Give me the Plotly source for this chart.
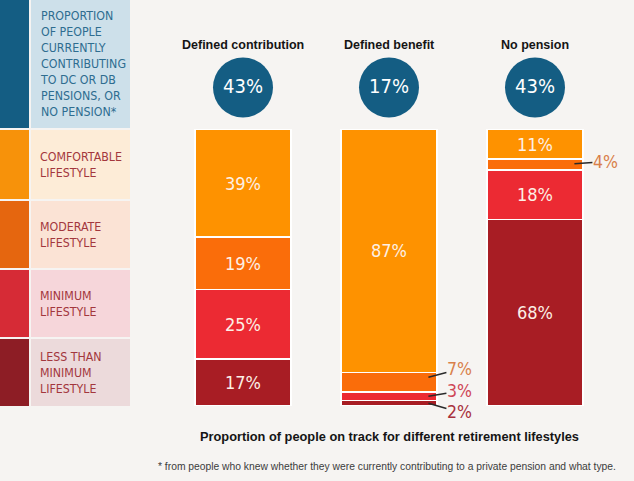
import plotly.graph_objects as go

# ---------------- data ----------------
pension_types = ["Defined contribution", "Defined benefit", "No pension"]
contributing = [43, 17, 43]            # % currently contributing (circles)
comfortable = [39, 87, 11]
moderate = [19, 7, 4]
minimum = [25, 3, 18]
less_than_minimum = [17, 2, 68]

legend_labels = [
    "PROPORTION<br>OF PEOPLE<br>CURRENTLY<br>CONTRIBUTING<br>TO DC OR DB<br>PENSIONS, OR<br>NO PENSION*",
    "COMFORTABLE<br>LIFESTYLE",
    "MODERATE<br>LIFESTYLE",
    "MINIMUM<br>LIFESTYLE",
    "LESS THAN<br>MINIMUM<br>LIFESTYLE",
]
chart_title = "Proportion of people on track for different retirement lifestyles"
footnote = "* from people who knew whether they were currently contributing to a private pension and what type."

# ---------------- styles ----------------
W, H = 634, 481
BG = "#f6f4f2"
NARROW = "DejaVu Sans Condensed, Liberation Sans Narrow, Arial Narrow, sans-serif"
SANS = "Liberation Sans, Arial, sans-serif"
C_BLUE = "#145d83"
series = [  # bottom -> top
    ("Less than minimum lifestyle", less_than_minimum, "#a81d24", "#a8303c"),
    ("Minimum lifestyle", minimum, "#ec2a33", "#cf4656"),
    ("Moderate lifestyle", moderate, "#fa6d0a", "#d9804a"),
    ("Comfortable lifestyle", comfortable, "#fe9200", "#d98a3a"),
]
SMALL = 8  # segments below this get an outside label

totals = [sum(s[1][i] for s in series) for i in range(len(pension_types))]

fig = go.Figure()
for name, vals, col, _ in series:
    heights = [v / t * 100 for v, t in zip(vals, totals)]
    fig.add_trace(go.Bar(
        x=pension_types, y=heights, name=name, customdata=vals,
        text=[f"{v}%" if v >= SMALL else "" for v in vals],
        textposition="inside", insidetextanchor="middle", textangle=0,
        constraintext="none",
        textfont=dict(family=NARROW, size=18, color="#fdf0e6"),
        marker=dict(color=col, line=dict(color="#ffffff", width=1.5)),
        hoverinfo="skip", showlegend=False,
    ))

# circles with proportion contributing
fig.add_trace(go.Scatter(
    x=pension_types, y=[0.3] * len(pension_types), yaxis="y2",
    mode="markers+text", text=[f"{v}%" for v in contributing],
    textposition="middle center",
    textfont=dict(family=NARROW, size=20, color="#ffffff"),
    marker=dict(size=60, color=C_BLUE, line=dict(width=0)),
    hoverinfo="skip", showlegend=False, cliponaxis=False,
))

annotations = []
# column titles
for p in pension_types:
    annotations.append(dict(x=p, y=(H - 45) / H, xref="x", yref="paper", text=f"<b>{p}</b>",
                            showarrow=False, font=dict(family=SANS, size=12.5, color="#151515"),
                            xanchor="center", yanchor="middle"))

# outside labels for small segments
offsets = {("Moderate lifestyle", 1): (5, -8), ("Minimum lifestyle", 1): (0, -5),
           ("Less than minimum lifestyle", 1): (0, 9), ("Moderate lifestyle", 2): (1, -2)}
for i, p in enumerate(pension_types):
    base = 0.0
    for name, vals, col, lab_col in series:
        h = vals[i] / totals[i] * 100
        if vals[i] < SMALL:
            ys, ay = offsets.get((name, i), (0, 0))
            annotations.append(dict(
                x=i + 0.27, y=base + h / 2, xref="x", yref="y", text=f"{vals[i]}%",
                showarrow=True, arrowhead=0, arrowwidth=1.5, arrowcolor="#2a2a2a",
                ax=31, ay=ay, yshift=ys, standoff=0, borderpad=0,
                font=dict(family=NARROW, size=17.5, color=lab_col)))
        base += h

# bottom texts
annotations.append(dict(x=(179 + 601) / 2 / W, y=(H - 436) / H, xref="paper", yref="paper",
                        xanchor="center", yanchor="middle",
                        text=f"<b>{chart_title}</b>", showarrow=False,
                        font=dict(family=SANS, size=12.8, color="#151515")))
annotations.append(dict(x=618 / W, y=(H - 466) / H, xref="paper", yref="paper",
                        xanchor="right", yanchor="middle",
                        text=footnote, showarrow=False,
                        font=dict(family=SANS, size=10.3, color="#3c3c3c")))

# left legend panel
rows = [(0, 128), (130, 199), (201, 268), (270, 337), (339, 406)]
col_colors = [C_BLUE, "#f7920a", "#e5660f", "#d62b36", "#8d1d25"]
box_colors = ["#cde0ea", "#fdecd7", "#fbe3d5", "#f6d6da", "#ecdadb"]
txt_colors = ["#2e6d90", "#a3373d", "#a3373d", "#a3373d", "#a3373d"]
shapes = []
for (t, b), cc, bc, tc, lab in zip(rows, col_colors, box_colors, txt_colors, legend_labels):
    y0, y1 = (H - b) / H, (H - t) / H
    shapes.append(dict(type="rect", xref="paper", yref="paper", x0=0, x1=29 / W, y0=y0, y1=y1,
                       fillcolor=cc, line=dict(width=0), layer="below"))
    shapes.append(dict(type="rect", xref="paper", yref="paper", x0=31 / W, x1=130 / W, y0=y0, y1=y1,
                       fillcolor=bc, line=dict(width=0), layer="below"))
    annotations.append(dict(x=38 / W, y=(y0 + y1) / 2, xref="paper", yref="paper", text=lab,
                            showarrow=False, xanchor="left", yanchor="middle", align="left",
                            font=dict(family=NARROW, size=12.3, color=tc)))

fig.update_layout(
    width=W, height=H, margin=dict(l=0, r=0, t=0, b=0),
    paper_bgcolor=BG, plot_bgcolor=BG,
    barmode="stack", bargap=0.342,
    xaxis=dict(domain=[170 / W, 608 / W], range=[-0.5, 2.5], type="category",
               visible=False, fixedrange=True),
    yaxis=dict(domain=[(H - 406) / H, (H - 129) / H], range=[0, 100], visible=False, fixedrange=True),
    yaxis2=dict(domain=[(H - 125) / H, 1.0], range=[0, 1], visible=False, anchor="x", fixedrange=True),
    shapes=shapes, annotations=annotations,
)

fig.write_html("out.html", config={"displayModeBar": False},
               post_script="document.body.style.margin='0';document.body.style.overflow='hidden';")
